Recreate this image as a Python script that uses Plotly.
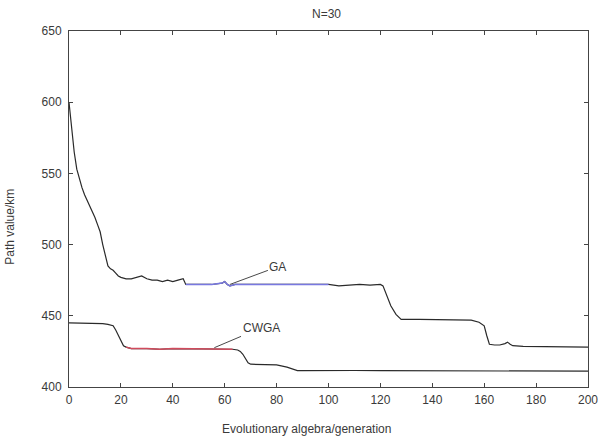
import plotly.graph_objects as go

# ---- data ----
ga_x = [0, 1, 2, 3, 4, 5, 6, 7, 8, 9, 10, 11, 12, 13, 14, 15, 16, 17, 18, 19, 20,
        22, 24, 26, 28, 30, 32, 34, 36, 38, 40, 42, 44, 45, 50, 55, 59, 60, 61, 62,
        64, 70, 80, 90, 100, 104, 108, 112, 116, 120, 121, 122, 124, 126, 128,
        135, 140, 145, 150, 155, 158, 160, 161, 162, 164, 166, 168, 169, 170, 171,
        175, 180, 185, 190, 195, 200]
ga_y = [600, 580, 565, 553, 546, 540, 535, 531, 527, 524, 519, 514, 509, 500, 492, 485, 483, 482, 480, 478, 477,
        476, 476, 477, 478, 476, 475, 475, 474, 475, 474, 475, 476, 472, 472, 472, 473, 474, 472, 471,
        472, 472, 472, 472, 472, 471, 471.5, 472, 471.5, 472, 471, 466, 457, 451, 447.5,
        447.5, 447.5, 447.5, 447.5, 447, 445.5, 443, 436, 430, 429.5, 429.5, 430.5, 431.5, 430, 429,
        428.5, 428.5, 428, 428, 428, 428]

cw_x = [0, 5, 10, 13, 15, 17, 18, 19, 20, 21, 22, 24, 30, 35, 40, 45, 50, 55, 60, 63,
        65, 66, 67, 68, 69, 70, 75, 80, 84, 86, 88, 90, 100, 110, 120, 130, 134, 140,
        150, 160, 170, 180, 190, 200]
cw_y = [445, 445, 445, 444.5, 444, 443, 440, 436, 432, 429, 428, 427, 427, 426.5, 427, 427, 427, 427, 427, 426.5,
        426, 425, 423, 420, 417, 416, 415.5, 415.5, 414, 413, 411.5, 411.5, 411.8, 411.6, 411.5, 411.4, 411.7, 411.3,
        411.2, 411.2, 411.2, 411.2, 411.1, 411.1]

ga_blue_range = (45, 100)
cw_red_range = (22, 63)

x_ticks = [0, 20, 40, 60, 80, 100, 120, 140, 160, 180, 200]
y_ticks = [400, 450, 500, 550, 600, 650]

title_text = "N=30"
x_title = "Evolutionary algebra/generation"
y_title = "Path value/km"


def segment(xs, ys, lo, hi):
    sx, sy = [], []
    for a, b in zip(xs, ys):
        if lo <= a <= hi:
            sx.append(a)
            sy.append(b)
    return sx, sy


FONT = "Liberation Sans, Arial, sans-serif"
TXT = "#3a3a3a"

fig = go.Figure()
fig.add_trace(go.Scatter(x=ga_x, y=ga_y, mode="lines", name="GA",
                         line=dict(color="#2a2a2a", width=1.2), showlegend=False))
bx, by = segment(ga_x, ga_y, *ga_blue_range)
fig.add_trace(go.Scatter(x=bx, y=by, mode="lines", line=dict(color="#7878e0", width=1.4),
                         showlegend=False))
fig.add_trace(go.Scatter(x=cw_x, y=cw_y, mode="lines", name="CWGA",
                         line=dict(color="#2a2a2a", width=1.2), showlegend=False))
rx, ry = segment(cw_x, cw_y, *cw_red_range)
fig.add_trace(go.Scatter(x=rx, y=ry, mode="lines", line=dict(color="#d04a5c", width=1.4),
                         showlegend=False))

fig.add_annotation(x=62, y=472, ax=80.5, ay=484.5, axref="x", ayref="y", xref="x", yref="y",
                   text="GA", showarrow=True, arrowhead=0, arrowwidth=0.9, arrowcolor="#333",
                   font=dict(family=FONT, size=12, color=TXT))
fig.add_annotation(x=56, y=427.6, ax=74, ay=441.5, axref="x", ayref="y", xref="x", yref="y",
                   text="CWGA", showarrow=True, arrowhead=0, arrowwidth=0.9, arrowcolor="#333",
                   font=dict(family=FONT, size=12, color=TXT))

# titles as annotations for exact placement
fig.add_annotation(x=0.497, y=1.0, xref="paper", yref="paper", yanchor="bottom", yshift=8,
                   text=title_text, showarrow=False, font=dict(family=FONT, size=12, color=TXT))
fig.add_annotation(x=0.457, y=0, xref="paper", yref="paper", yanchor="top", yshift=-33,
                   text=x_title, showarrow=False, font=dict(family=FONT, size=12, color=TXT))
fig.add_annotation(x=0, y=0.45, xref="paper", yref="paper", xanchor="center", xshift=-59,
                   text=y_title, textangle=-90, showarrow=False,
                   font=dict(family=FONT, size=12, color=TXT))

axis_common = dict(showgrid=False, zeroline=False, showline=True, linecolor="#444",
                   linewidth=1, mirror="ticks", ticks="inside", ticklen=4, tickcolor="#444",
                   ticklabeloverflow="allow", automargin=False,
                   tickfont=dict(family=FONT, size=12, color=TXT))
fig.update_xaxes(range=[0, 200], tickvals=x_ticks, ticklabelstandoff=2, **axis_common)
fig.update_yaxes(range=[400, 650], tickvals=y_ticks, ticklabelstandoff=4, **axis_common)

fig.update_layout(width=598, height=441, margin=dict(l=69, r=10, t=31, b=54),
                  plot_bgcolor="white", paper_bgcolor="white", showlegend=False)

fig.write_html("out.html", config={"displayModeBar": False},
               post_script="document.body.style.margin='0';document.body.style.overflow='hidden';")
